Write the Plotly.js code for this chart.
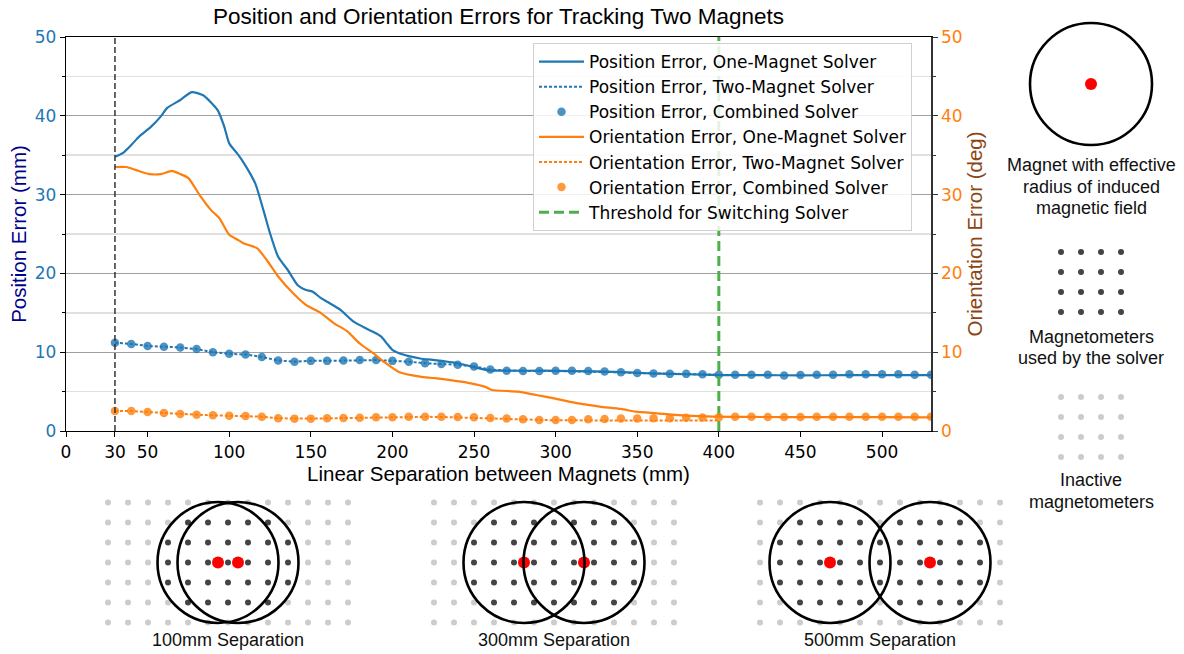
<!DOCTYPE html>
<html><head><meta charset="utf-8">
<script src="https://cdn.plot.ly/plotly-3.0.1.min.js"></script>
<style>html,body{margin:0;padding:0;background:#fff;} #chart{width:1184px;height:654px;}</style>
</head><body><div id="chart"></div>
<script>
// ---------- data ----------
const posOneX = [30, 35, 40, 45, 52, 58, 62, 70, 77, 84, 93, 97, 100, 105, 109, 116, 121, 125, 130, 136, 142, 147, 151, 156, 160, 168, 176, 184, 189, 193, 197, 200, 205, 210, 217, 226, 240, 248, 259, 270, 292, 310, 336, 360, 380, 400, 423, 450, 480, 500, 530];
const posOneY = [34.8, 35.3, 36.3, 37.4, 38.6, 39.9, 41.0, 42.0, 43.0, 42.6, 40.7, 38.6, 36.5, 35.2, 34.0, 31.4, 28.0, 25.1, 22.1, 20.4, 18.5, 17.9, 17.7, 16.9, 16.4, 15.4, 13.9, 13.0, 12.5, 12.0, 11.0, 10.3, 9.8, 9.5, 9.2, 9.0, 8.6, 8.2, 7.7, 7.65, 7.65, 7.6, 7.5, 7.3, 7.2, 7.1, 7.1, 7.05, 7.1, 7.1, 7.1];

const oriOneX = [30, 37, 43, 51, 58, 65, 70, 75, 82, 89, 94, 100, 105, 109, 117, 123, 130, 139, 147, 156, 164, 172, 180, 188, 196, 204, 217, 226, 248, 257, 261, 277, 288, 299, 314, 327, 340, 349, 362, 380, 397, 420, 460, 500, 530];
const oriOneY = [33.5, 33.5, 33.1, 32.6, 32.6, 33.0, 32.6, 32.1, 29.9, 28.0, 27.0, 24.9, 24.3, 23.8, 23.2, 21.7, 19.6, 17.5, 16.0, 15.0, 13.7, 12.7, 11.1, 9.9, 8.6, 7.5, 6.9, 6.7, 6.05, 5.6, 5.2, 5.0, 4.57, 4.15, 3.5, 3.1, 2.8, 2.45, 2.24, 1.95, 1.82, 1.78, 1.75, 1.75, 1.72];

const combinedX = [30, 40, 50, 60, 70, 80, 90, 100, 110, 120, 130, 140, 150, 160, 170, 180, 190, 200, 210, 220, 230, 240, 250, 260, 270, 280, 290, 300, 310, 320, 330, 340, 350, 360, 370, 380, 390, 400, 410, 420, 430, 440, 450, 460, 470, 480, 490, 500, 510, 520, 530];
const posCombY = [11.2, 11.05, 10.8, 10.7, 10.6, 10.4, 10.0, 9.8, 9.7, 9.4, 8.95, 8.8, 8.9, 8.9, 8.95, 9.0, 9.0, 8.9, 8.8, 8.6, 8.5, 8.4, 8.2, 7.8, 7.65, 7.6, 7.6, 7.65, 7.65, 7.6, 7.55, 7.45, 7.35, 7.3, 7.25, 7.25, 7.2, 7.15, 7.15, 7.15, 7.15, 7.05, 7.1, 7.15, 7.15, 7.2, 7.2, 7.2, 7.2, 7.15, 7.15];
const oriCombY = [2.54, 2.54, 2.41, 2.28, 2.16, 2.07, 1.99, 1.95, 1.9, 1.82, 1.61, 1.57, 1.57, 1.61, 1.65, 1.69, 1.74, 1.74, 1.82, 1.82, 1.82, 1.77, 1.75, 1.65, 1.6, 1.5, 1.4, 1.4, 1.4, 1.48, 1.52, 1.58, 1.6, 1.62, 1.62, 1.68, 1.7, 1.75, 1.8, 1.8, 1.78, 1.78, 1.78, 1.8, 1.8, 1.8, 1.8, 1.82, 1.82, 1.82, 1.8];

const twoX = [30, 40, 50, 60, 70, 80, 90, 100, 110, 120, 130, 140, 150, 160, 170, 180, 190, 200, 210, 220, 230, 240, 250, 260, 270, 280, 290, 300, 310, 320, 330, 340, 350, 360, 370, 380, 390, 400];
const posTwoY = [11.2, 11.05, 10.8, 10.7, 10.6, 10.4, 10.0, 9.8, 9.7, 9.4, 8.95, 8.8, 8.9, 8.9, 8.95, 9.0, 9.0, 8.9, 8.8, 8.6, 8.5, 8.4, 8.2, 7.8, 7.65, 7.6, 7.6, 7.62, 7.6, 7.58, 7.52, 7.45, 7.35, 7.3, 7.25, 7.22, 7.2, 7.15];
const oriTwoY = [2.54, 2.54, 2.41, 2.28, 2.16, 2.07, 1.99, 1.95, 1.9, 1.82, 1.61, 1.57, 1.57, 1.61, 1.65, 1.69, 1.74, 1.74, 1.8, 1.8, 1.78, 1.74, 1.7, 1.6, 1.52, 1.45, 1.38, 1.36, 1.35, 1.35, 1.34, 1.33, 1.32, 1.32, 1.31, 1.31, 1.31, 1.32];

const thresholdX = [400, 400];
const thresholdY = [0, 50];
const switchStartX = 30;

const xTickVals = [0, 30, 50, 100, 150, 200, 250, 300, 350, 400, 450, 500];
const xTickText = ['0', '30', '50', '100', '150', '200', '250', '300', '350', '400', '450', '500'];

const seriesNames = [
  'Position Error, One-Magnet Solver',
  'Position Error, Two-Magnet Solver',
  'Position Error, Combined Solver',
  'Orientation Error, One-Magnet Solver',
  'Orientation Error, Two-Magnet Solver',
  'Orientation Error, Combined Solver',
  'Threshold for Switching Solver'
];

const separationsMm = [100, 300, 500];
const separationLabels = ['100mm Separation', '300mm Separation', '500mm Separation'];
const keyTexts = [
  ['Magnet with effective', 'radius of induced', 'magnetic field'],
  ['Magnetometers', 'used by the solver'],
  ['Inactive', 'magnetometers']
];

// ---------- styling / geometry ----------
const W = 1184, H = 654;
const BLUE = '#1f77b4', ORANGE = '#ff7f0e';
const TICKFONT = 'DejaVu Sans';
const SANS = 'Liberation Sans, Arial, sans-serif';
const plotL = 66, plotR = 931, plotT = 37, plotB = 431;

// diagram geometry (pixel space of the whole figure)
const diag = {centers: [228, 554, 880], top: 502.5, pitch: 20, cols: 13, rows: 7, pxPerMm: 0.2, radius: 60.5, labelY: 640};
const lightX = [], lightY = [], darkX = [], darkY = [], redX = [], redY = [];
const shapes = [];
const annotations = [];

separationsMm.forEach((sep, i) => {
  const cx = diag.centers[i];
  const cy = diag.top + diag.pitch * (diag.rows - 1) / 2;
  const mags = [cx - sep * diag.pxPerMm / 2, cx + sep * diag.pxPerMm / 2];
  for (let r = 0; r < diag.rows; r++) {
    for (let c = 0; c < diag.cols; c++) {
      const x = cx + (c - (diag.cols - 1) / 2) * diag.pitch;
      const y = diag.top + r * diag.pitch;
      const inside = mags.some(m => Math.hypot(x - m, y - cy) < diag.radius - 1);
      if (inside) { darkX.push(x); darkY.push(y); } else { lightX.push(x); lightY.push(y); }
    }
  }
  mags.forEach(m => {
    redX.push(m); redY.push(cy);
    shapes.push({type: 'circle', xref: 'x3', yref: 'y3', x0: m - diag.radius, x1: m + diag.radius,
      y0: cy - diag.radius, y1: cy + diag.radius, line: {color: '#000', width: 2.6}});
  });
  annotations.push({xref: 'x3', yref: 'y3', x: cx, y: diag.labelY, text: separationLabels[i], showarrow: false,
    xanchor: 'center', yanchor: 'middle', font: {family: SANS, size: 18, color: '#111'}});
});

// key panel on the right
const key = {cx: 1091, cy: 84, r: 61, gridX0: 1061, darkY0: 252, lightY0: 397, pitch: 20, n: 4};
shapes.push({type: 'circle', xref: 'x3', yref: 'y3', x0: key.cx - key.r, x1: key.cx + key.r,
  y0: key.cy - key.r, y1: key.cy + key.r, line: {color: '#000', width: 2.6}});
redX.push(key.cx); redY.push(key.cy);
for (let r = 0; r < key.n; r++) {
  for (let c = 0; c < key.n; c++) {
    darkX.push(key.gridX0 + c * key.pitch); darkY.push(key.darkY0 + r * key.pitch);
    lightX.push(key.gridX0 + c * key.pitch); lightY.push(key.lightY0 + r * key.pitch);
  }
}
const keyTextY = [[165, 186.7, 208.3], [336.7, 357.5], [480, 501.7]];
keyTexts.forEach((lines, i) => lines.forEach((t, j) => {
  annotations.push({xref: 'x3', yref: 'y3', x: key.cx, y: keyTextY[i][j], text: t, showarrow: false,
    xanchor: 'center', yanchor: 'middle', font: {family: SANS, size: 18, color: '#111'}});
}));

// black dashed start line
shapes.push({type: 'line', xref: 'x', yref: 'y', x0: switchStartX, x1: switchStartX, y0: 0, y1: 50,
  line: {color: '#333', width: 1.5, dash: '6px,3px'}});

const traces = [
  {x: posOneX, y: posOneY, name: seriesNames[0], mode: 'lines', line: {color: BLUE, width: 2.2, shape: 'spline', smoothing: 0.6}},
  {x: twoX, y: posTwoY, name: seriesNames[1], mode: 'lines', line: {color: BLUE, width: 2, dash: '3px,2px'}},
  {x: combinedX, y: posCombY, name: seriesNames[2], mode: 'markers', marker: {color: BLUE, size: 8.5, opacity: 0.8}},
  {x: oriOneX, y: oriOneY, name: seriesNames[3], yaxis: 'y2', mode: 'lines', line: {color: ORANGE, width: 2.2, shape: 'spline', smoothing: 0.6}},
  {x: twoX, y: oriTwoY, name: seriesNames[4], yaxis: 'y2', mode: 'lines', line: {color: ORANGE, width: 2, dash: '3px,2px'}},
  {x: combinedX, y: oriCombY, name: seriesNames[5], yaxis: 'y2', mode: 'markers', marker: {color: ORANGE, size: 8.5, opacity: 0.8}},
  {x: thresholdX, y: thresholdY, name: seriesNames[6], mode: 'lines', line: {color: '#4daf4a', width: 3, dash: '10px,5px'}},
  // diagrams
  {x: lightX, y: lightY, xaxis: 'x3', yaxis: 'y3', mode: 'markers', showlegend: false, hoverinfo: 'skip',
    marker: {color: '#cccccc', size: 6}},
  {x: darkX, y: darkY, xaxis: 'x3', yaxis: 'y3', mode: 'markers', showlegend: false, hoverinfo: 'skip',
    marker: {color: '#444444', size: 6}},
  {x: redX, y: redY, xaxis: 'x3', yaxis: 'y3', mode: 'markers', showlegend: false, hoverinfo: 'skip',
    marker: {color: '#ff0000', size: 12}}
];

const layout = {
  width: W, height: H, autosize: false,
  margin: {l: 0, r: 0, t: 0, b: 0, pad: 0},
  paper_bgcolor: '#ffffff', plot_bgcolor: 'rgba(0,0,0,0)',
  showlegend: true,
  title: {text: 'Position and Orientation Errors for Tracking Two Magnets',
    font: {family: SANS, size: 22.5, color: '#000'},
    x: (plotL + plotR) / 2 / W, xref: 'paper', xanchor: 'center',
    y: 1 - 16 / H, yref: 'container', yanchor: 'middle'},
  xaxis: {
    domain: [plotL / W, plotR / W], range: [0, 530], anchor: 'y',
    tickvals: xTickVals, ticktext: xTickText,
    ticks: 'outside', ticklen: 5, tickwidth: 1, tickcolor: '#000',
    tickfont: {family: TICKFONT, size: 17, color: '#000'},
    showline: true, linecolor: '#000', linewidth: 1.2, mirror: true,
    showgrid: false, zeroline: false,
    title: {text: 'Linear Separation between Magnets (mm)', font: {family: SANS, size: 20.5, color: '#000'}, standoff: 2}
  },
  yaxis: {
    domain: [1 - plotB / H, 1 - plotT / H], range: [0, 50], anchor: 'x',
    dtick: 10, tick0: 0,
    ticks: 'outside', ticklen: 5, tickwidth: 1, tickcolor: '#000',
    tickfont: {family: TICKFONT, size: 17, color: BLUE},
    showline: true, linecolor: '#000', linewidth: 1.2,
    showgrid: true, gridcolor: '#a0a0a0', gridwidth: 1, zeroline: false,
    minor: {dtick: 5, tick0: 0, ticks: 'outside', ticklen: 3, tickcolor: '#000', showgrid: true, gridcolor: '#e0e0e0', gridwidth: 1.6},
    title: {text: 'Position Error (mm)', font: {family: SANS, size: 20.5, color: '#00008b'}, standoff: 2}
  },
  yaxis2: {
    overlaying: 'y', side: 'right', anchor: 'x', range: [0, 50],
    dtick: 10, tick0: 0,
    ticks: 'outside', ticklen: 5, tickwidth: 1, tickcolor: '#333',
    tickfont: {family: TICKFONT, size: 17, color: ORANGE},
    showline: true, linecolor: '#333', linewidth: 1.5,
    showgrid: false, zeroline: false,
    minor: {dtick: 5, tick0: 0, ticks: 'outside', ticklen: 3, tickcolor: '#333', showgrid: false},
    title: {text: 'Orientation Error (deg)', font: {family: SANS, size: 20.5, color: '#8b4513'}, standoff: 6}
  },
  xaxis3: {domain: [0, 1], range: [0, W], anchor: 'y3', visible: false, fixedrange: true},
  yaxis3: {domain: [0, 1], range: [H, 0], anchor: 'x3', visible: false, fixedrange: true},
  legend: {
    x: 533 / W, y: 1 - 43 / H, xanchor: 'left', yanchor: 'top',
    xref: 'paper', yref: 'paper',
    bgcolor: 'rgba(255,255,255,0.85)', bordercolor: '#d0d0d0', borderwidth: 1,
    font: {family: TICKFONT, size: 17, color: '#000'},
    itemwidth: 45, traceorder: 'normal'
  },
  shapes: shapes,
  annotations: annotations
};

Plotly.newPlot('chart', traces, layout, {displayModeBar: false, staticPlot: true});
</script></body></html>
